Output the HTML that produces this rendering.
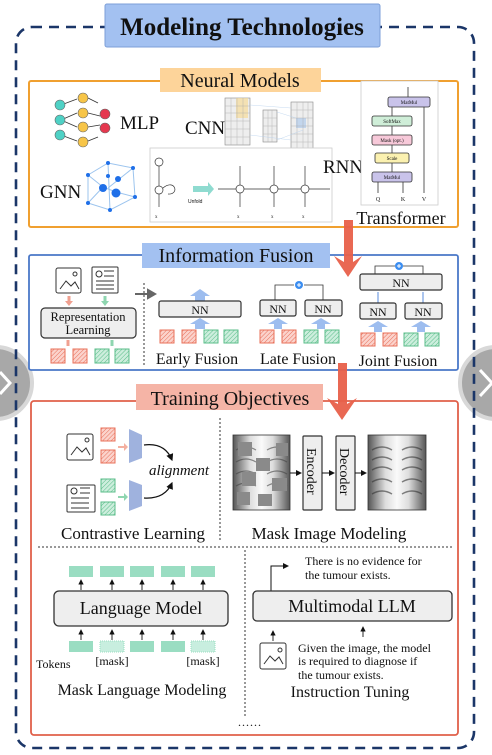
<!DOCTYPE html>
<html><head><meta charset="utf-8"><style>
html,body{margin:0;padding:0;background:#fff;width:492px;height:755px;overflow:hidden}
svg{display:block}
text{font-family:"Liberation Serif",serif;fill:#111}
.s{font-family:"Liberation Sans",sans-serif}
</style></head><body>
<svg width="492" height="755" viewBox="0 0 492 755" xmlns="http://www.w3.org/2000/svg">
<defs>
<pattern id="hr" width="3" height="3" patternUnits="userSpaceOnUse" patternTransform="rotate(45)"><rect width="3" height="3" fill="#fbd3cc"/><line x1="0" y1="0" x2="0" y2="3" stroke="#e8705a" stroke-width="1"/></pattern>
<pattern id="hg" width="3" height="3" patternUnits="userSpaceOnUse" patternTransform="rotate(45)"><rect width="3" height="3" fill="#cdeedd"/><line x1="0" y1="0" x2="0" y2="3" stroke="#5bbd8a" stroke-width="1"/></pattern>
<marker id="ah" markerWidth="6" markerHeight="6" refX="5" refY="3" orient="auto"><path d="M0,0 L6,3 L0,6 z" fill="#111"/></marker>
</defs>

<!-- side gray circles -->
<circle cx="-4" cy="383" r="36" fill="#a8a8a8" stroke="#d8d8d8" stroke-width="4"/>
<circle cx="496" cy="383" r="36" fill="#a8a8a8" stroke="#d8d8d8" stroke-width="4"/>
<path d="M0,372 L10,383 L0,394" stroke="#fff" stroke-width="3" fill="none"/>
<path d="M480,370 L492,383 L480,396" stroke="#fff" stroke-width="3" fill="none"/>

<!-- outer dashed -->
<rect x="16" y="27" width="458" height="721" rx="16" fill="none" stroke="#1b3668" stroke-width="2.6" stroke-dasharray="10,7"/>
<rect x="105" y="4" width="275" height="43" rx="2" fill="#a3c1f1" stroke="#7d9fd8" stroke-width="1"/>
<text x="242" y="35" font-size="25" font-weight="bold" text-anchor="middle">Modeling Technologies</text>

<!-- Neural models -->
<rect x="29" y="81" width="429" height="146" rx="2" fill="#fff" stroke="#f0a030" stroke-width="2"/>
<rect x="160" y="68" width="161" height="24" fill="#fdd49a"/>
<text x="240" y="87" font-size="20" text-anchor="middle">Neural Models</text>
<!-- MLP -->
<g stroke="#333" stroke-width="0.8">
<line x1="61" y1="105" x2="77" y2="99"/><line x1="88" y1="98" x2="98" y2="103"/>
<line x1="61" y1="120" x2="77" y2="113"/><line x1="61" y1="120" x2="77" y2="127"/>
<line x1="61" y1="135" x2="77" y2="141"/><line x1="88" y1="113" x2="100" y2="116"/><line x1="88" y1="127" x2="100" y2="125"/><line x1="88" y1="141" x2="98" y2="137"/>
</g>
<g stroke="#666" stroke-width="0.6">
<circle cx="60" cy="105" r="5" fill="#4fd1c5"/><circle cx="60" cy="120" r="5" fill="#4fd1c5"/><circle cx="60" cy="135" r="5" fill="#4fd1c5"/>
<circle cx="83" cy="98" r="5" fill="#f7c548"/><circle cx="83" cy="113" r="5" fill="#f7c548"/><circle cx="83" cy="127" r="5" fill="#f7c548"/><circle cx="83" cy="142" r="5" fill="#f7c548"/>
<circle cx="105" cy="114" r="5" fill="#e5384f"/><circle cx="105" cy="128" r="5" fill="#e5384f"/>
</g>
<text x="120" y="129" font-size="19">MLP</text>
<!-- CNN -->
<text x="185" y="134" font-size="19">CNN</text>
<g stroke="#888" stroke-width="0.6" fill="#eee">
<rect x="225" y="98" width="25" height="47"/>
<rect x="263" y="110" width="14" height="32"/>
<rect x="291" y="102" width="22" height="47"/>
</g>
<rect x="236" y="98" width="12" height="20" fill="#f6dc9a" opacity="0.7"/>
<rect x="296" y="118" width="10" height="10" fill="#b8d0ec" opacity="0.8"/>
<g stroke="#aaa" stroke-width="0.4">
<path d="M225,106 h25 M225,113 h25 M225,121 h25 M225,129 h25 M225,137 h25 M231,98 v47 M237,98 v47 M243,98 v47"/>
<path d="M263,118 h14 M263,126 h14 M263,134 h14 M268,110 v32 M272,110 v32"/>
<path d="M291,110 h22 M291,118 h22 M291,126 h22 M291,134 h22 M291,142 h22 M297,102 v47 M303,102 v47 M308,102 v47"/>
<path d="M250,105 L291,108 M250,135 L291,140 M277,112 L296,118 M277,140 L303,130" stroke="#b8d0ec"/>
</g>
<!-- GNN -->
<text x="40" y="198" font-size="19">GNN</text>
<g stroke="#9cc4ee" stroke-width="1" fill="none">
<path d="M88,175 L108,163 L133,168 L135,197 L110,210 L88,203 Z M108,163 L110,210 M108,188 L133,168 M103,187 L116,192 L135,197 M88,175 L103,187 L88,203"/>
</g>
<g fill="#1f6fe8">
<circle cx="88" cy="175" r="2"/><circle cx="108" cy="163" r="2"/><circle cx="133" cy="168" r="2"/><circle cx="135" cy="197" r="2"/><circle cx="110" cy="210" r="2"/><circle cx="88" cy="203" r="2"/><circle cx="108" cy="176" r="2"/>
<circle cx="103" cy="188" r="4"/><circle cx="118" cy="179" r="3"/><circle cx="116" cy="193" r="4.5"/>
</g>
<!-- RNN -->
<rect x="150" y="148" width="182" height="74" fill="#fff" stroke="#ccc" stroke-width="0.8"/>
<text x="323" y="173" font-size="19">RNN</text>
<g stroke="#333" stroke-width="0.7" fill="none">
<circle cx="159" cy="162" r="4"/><circle cx="159" cy="190" r="4"/><circle cx="240" cy="189" r="4"/><circle cx="274" cy="189" r="4"/><circle cx="305" cy="189" r="4"/>
<path d="M159,186 V166 M159,207 V194 M240,207 V193 M274,207 V193 M305,207 V193 M240,185 V166 M274,185 V166 M305,185 V166 M218,189 H236 M244,189 H270 M278,189 H301 M309,189 H330"/>
<path d="M163,188 C175,178 180,195 168,194"/>
</g>
<path d="M193,186 H208 V182 L214,189 L208,196 V192 H193Z" fill="#8fdbd0"/>
<text x="188" y="203" font-size="5" class="s" fill="#555">Unfold</text>
<text x="155" y="218" font-size="5" fill="#333">x</text><text x="237" y="218" font-size="5">x</text><text x="271" y="218" font-size="5">x</text><text x="302" y="218" font-size="5">x</text>
<!-- Transformer -->
<rect x="361" y="81" width="77" height="124" fill="#fff" stroke="#ccc" stroke-width="0.8"/>
<g stroke="#333" stroke-width="0.8" class="s">
<rect x="388" y="97" width="42" height="10" rx="2" fill="#c9c3ea"/>
<rect x="372" y="116" width="40" height="10" rx="2" fill="#cfeed8"/>
<rect x="372" y="135" width="40" height="10" rx="2" fill="#f7c9d9"/>
<rect x="375" y="153" width="34" height="10" rx="2" fill="#fbf1b0"/>
<rect x="372" y="172" width="40" height="10" rx="2" fill="#c9c3ea"/>
<path d="M408,97 V87 M392,116 V107 M392,135 V126 M392,153 V145 M392,172 V163 M378,193 V182 M403,193 V182 M424,193 V107" fill="none"/>
</g>
<g class="s" font-size="5" text-anchor="middle"><text x="409" y="104">MatMul</text><text x="392" y="123">SoftMax</text><text x="392" y="142">Mask (opt.)</text><text x="392" y="160">Scale</text><text x="392" y="179">MatMul</text></g>
<g class="s" font-size="6" text-anchor="middle"><text x="378" y="201">Q</text><text x="403" y="201">K</text><text x="424" y="201">V</text></g>
<text x="401" y="224" font-size="18" text-anchor="middle">Transformer</text>

<!-- Info fusion -->
<rect x="29" y="255" width="429" height="115" rx="2" fill="#fff" stroke="#4a78c8" stroke-width="1.8"/>
<rect x="142" y="243" width="188" height="25" fill="#a3c1f1"/>
<text x="236" y="262" font-size="20" text-anchor="middle">Information Fusion</text>
<g stroke="#333" stroke-width="1" fill="#fff">
<rect x="56" y="268" width="25" height="25" rx="2"/><path d="M60,289 L66,281 L71,286 L75,282 L79,289" fill="none"/><circle cx="75" cy="274" r="2"/>
<rect x="92" y="267" width="26" height="26" rx="1"/><circle cx="99" cy="274" r="3"/><path d="M104,271 h10 M104,276 h10 M96,281 h18 M96,285 h18 M96,289 h18" fill="none"/>
</g>
<path d="M69,296 V302" stroke="#f0a090" stroke-width="3"/><path d="M65,301 L69,306 L73,301Z" fill="#f0a090"/>
<path d="M105,296 V302" stroke="#8fd6b0" stroke-width="3"/><path d="M101,301 L105,306 L109,301Z" fill="#8fd6b0"/>
<rect x="41" y="308" width="95" height="30" rx="4" fill="#eee" stroke="#333" stroke-width="1.2"/>
<text x="88" y="321" font-size="12.5" text-anchor="middle">Representation</text><text x="88" y="334" font-size="12.5" text-anchor="middle">Learning</text>
<path d="M68,340 V346" stroke="#f0a090" stroke-width="3"/><path d="M112,340 V346" stroke="#8fd6b0" stroke-width="3"/>
<rect x="51" y="349" width="14" height="14" fill="url(#hr)" stroke="#e8705a"/><rect x="73" y="349" width="14" height="14" fill="url(#hr)" stroke="#e8705a"/>
<rect x="95" y="349" width="14" height="14" fill="url(#hg)" stroke="#5bbd8a"/><rect x="115" y="349" width="14" height="14" fill="url(#hg)" stroke="#5bbd8a"/>
<path d="M144,283 V367" stroke="#333" stroke-width="1" stroke-dasharray="2,2"/>
<path d="M135,294 H148 V290 L155,294 L148,298 V294" fill="#666" stroke="#666" stroke-width="2"/>
<!-- early -->
<path d="M195,301 V296 H190 L200,289 L210,296 H205 V301Z" fill="#9dbdef"/>
<rect x="159" y="301" width="82" height="16" rx="2" fill="#eee" stroke="#333" stroke-width="1.2"/><text x="200" y="314" font-size="12" text-anchor="middle">NN</text>
<path d="M195,329 V324 H190 L200,318 L210,324 H205 V329Z" fill="#9dbdef"/>
<rect x="160" y="330" width="14" height="13" fill="url(#hr)" stroke="#e8705a"/><rect x="182" y="330" width="14" height="13" fill="url(#hr)" stroke="#e8705a"/><rect x="204" y="330" width="14" height="13" fill="url(#hg)" stroke="#5bbd8a"/><rect x="224" y="330" width="14" height="13" fill="url(#hg)" stroke="#5bbd8a"/>
<text x="197" y="364" font-size="16" text-anchor="middle">Early Fusion</text>
<!-- late -->
<path d="M275,300 V285 H294 M323,300 V285 H304" stroke="#333" stroke-width="0.8" fill="none"/>
<circle cx="299" cy="285" r="4" fill="#3b8df0"/><path d="M297,285 h4 M299,283 v4" stroke="#fff" stroke-width="1"/>
<rect x="260" y="300" width="36" height="16" rx="2" fill="#eee" stroke="#333" stroke-width="1.2"/><rect x="305" y="300" width="37" height="16" rx="2" fill="#eee" stroke="#333" stroke-width="1.2"/>
<text x="278" y="313" font-size="12" text-anchor="middle">NN</text><text x="323" y="313" font-size="12" text-anchor="middle">NN</text>
<path d="M274,329 V324 H268 L278,318 L288,324 H282 V329Z" fill="#9dbdef"/><path d="M317,329 V324 H311 L321,318 L331,324 H325 V329Z" fill="#9dbdef"/>
<rect x="260" y="330" width="14" height="13" fill="url(#hr)" stroke="#e8705a"/><rect x="282" y="330" width="14" height="13" fill="url(#hr)" stroke="#e8705a"/><rect x="304" y="330" width="14" height="13" fill="url(#hg)" stroke="#5bbd8a"/><rect x="325" y="330" width="14" height="13" fill="url(#hg)" stroke="#5bbd8a"/>
<text x="298" y="364" font-size="16" text-anchor="middle">Late Fusion</text>
<!-- joint -->
<path d="M375,274 V266 H395 M423,274 V266 H403" stroke="#333" stroke-width="0.8" fill="none"/>
<circle cx="399" cy="266" r="4" fill="#3b8df0"/><path d="M397,266 h4 M399,264 v4" stroke="#fff" stroke-width="1"/>
<rect x="360" y="274" width="82" height="16" rx="2" fill="#eee" stroke="#333" stroke-width="1.2"/><text x="401" y="287" font-size="12" text-anchor="middle">NN</text>
<path d="M378,303 V292 M423,303 V292" stroke="#2f6fd6" stroke-width="0.8"/>
<rect x="360" y="303" width="36" height="16" rx="2" fill="#eee" stroke="#333" stroke-width="1.2"/><rect x="405" y="303" width="37" height="16" rx="2" fill="#eee" stroke="#333" stroke-width="1.2"/>
<text x="378" y="316" font-size="12" text-anchor="middle">NN</text><text x="423" y="316" font-size="12" text-anchor="middle">NN</text>
<path d="M374,332 V327 H368 L378,321 L388,327 H382 V332Z" fill="#9dbdef"/><path d="M417,332 V327 H411 L421,321 L431,327 H425 V332Z" fill="#9dbdef"/>
<rect x="361" y="333" width="14" height="13" fill="url(#hr)" stroke="#e8705a"/><rect x="383" y="333" width="14" height="13" fill="url(#hr)" stroke="#e8705a"/><rect x="404" y="333" width="14" height="13" fill="url(#hg)" stroke="#5bbd8a"/><rect x="425" y="333" width="14" height="13" fill="url(#hg)" stroke="#5bbd8a"/>
<text x="398" y="366" font-size="16" text-anchor="middle">Joint Fusion</text>

<!-- Training objectives -->
<rect x="31" y="401" width="427" height="334" rx="3" fill="#fff" stroke="#e0604a" stroke-width="1.8"/>
<rect x="136" y="384" width="187" height="26" fill="#f5b4a6"/>
<text x="230" y="405" font-size="20" text-anchor="middle">Training Objectives</text>
<g stroke="#333" stroke-width="1" fill="#fff">
<rect x="67" y="434" width="26" height="26" rx="2"/><path d="M71,455 L77,447 L82,452 L86,448 L90,455" fill="none"/><circle cx="87" cy="440" r="2"/>
<rect x="67" y="485" width="28" height="27" rx="1"/><circle cx="74" cy="491" r="3"/><path d="M80,488 h10 M80,493 h10 M71,498 h18 M71,503 h18 M71,508 h18" fill="none"/>
</g>
<rect x="101" y="428" width="14" height="13" fill="url(#hr)" stroke="#e8705a"/><rect x="101" y="450" width="14" height="13" fill="url(#hr)" stroke="#e8705a"/>
<rect x="101" y="479" width="14" height="13" fill="url(#hg)" stroke="#5bbd8a"/><rect x="101" y="502" width="14" height="13" fill="url(#hg)" stroke="#5bbd8a"/>
<path d="M118,446 h6 v-3 l4,4 l-4,4 v-3 h-6z" fill="#f4b0a0"/><path d="M118,496 h6 v-3 l4,4 l-4,4 v-3 h-6z" fill="#8fd6b0"/>
<path d="M129,429 L142,435 L142,458 L129,463Z" fill="#9fb2de"/><path d="M129,480 L142,485 L142,506 L129,511Z" fill="#9fb2de"/>
<path d="M144,445 C160,443 168,450 172,460" stroke="#111" stroke-width="1.2" fill="none" marker-end="url(#ah)"/>
<path d="M144,498 C160,499 168,492 172,483" stroke="#111" stroke-width="1.2" fill="none" marker-end="url(#ah)"/>
<text x="179" y="475" font-size="15" font-style="italic" text-anchor="middle">alignment</text>
<text x="133" y="539" font-size="17" text-anchor="middle">Contrastive Learning</text>
<path d="M220,418 V540" stroke="#333" stroke-width="1" stroke-dasharray="2,2"/>
<defs><linearGradient id="xr" x1="0" x2="1"><stop offset="0" stop-color="#555"/><stop offset="0.3" stop-color="#ddd"/><stop offset="0.5" stop-color="#fafafa"/><stop offset="0.7" stop-color="#ddd"/><stop offset="1" stop-color="#555"/></linearGradient></defs>
<rect x="233" y="435" width="57" height="75" fill="url(#xr)" stroke="#333" stroke-width="0.8"/>
<g stroke="#444" stroke-width="1.2" opacity="0.6" fill="none"><path d="M236,450 q10,-6 20,0 M236,462 q10,-6 20,0 M236,474 q10,-6 20,0 M236,486 q10,-6 20,0 M267,450 q10,-6 20,0 M267,462 q10,-6 20,0 M267,474 q10,-6 20,0 M267,486 q10,-6 20,0"/></g>
<g fill="#8a8a8a"><rect x="238" y="442" width="14" height="14"/><rect x="276" y="443" width="12" height="13"/><rect x="256" y="458" width="14" height="13"/><rect x="242" y="472" width="14" height="14"/><rect x="272" y="478" width="15" height="13"/><rect x="237" y="492" width="13" height="13"/><rect x="258" y="494" width="14" height="12"/></g>
<rect x="303" y="436" width="19" height="74" rx="1" fill="#eee" stroke="#333" stroke-width="1.2"/>
<rect x="336" y="436" width="19" height="74" rx="1" fill="#eee" stroke="#333" stroke-width="1.2"/>
<text transform="translate(307,448) rotate(90)" font-size="14">Encoder</text>
<text transform="translate(340,448) rotate(90)" font-size="14">Decoder</text>
<line x1="290" y1="473" x2="301" y2="473" stroke="#111" marker-end="url(#ah)"/>
<line x1="322" y1="473" x2="334" y2="473" stroke="#111" marker-end="url(#ah)"/>
<line x1="355" y1="473" x2="366" y2="473" stroke="#111" marker-end="url(#ah)"/>
<rect x="368" y="435" width="58" height="75" fill="url(#xr)" stroke="#333" stroke-width="0.8"/>
<g stroke="#333" stroke-width="1.4" opacity="0.6" fill="none"><path d="M372,450 q10,-6 20,0 M372,460 q10,-6 20,0 M372,470 q10,-6 20,0 M372,482 q10,-6 20,0 M372,494 q10,-6 20,0 M402,450 q10,-6 20,0 M402,460 q10,-6 20,0 M402,470 q10,-6 20,0 M402,482 q10,-6 20,0 M402,494 q10,-6 20,0"/></g>
<text x="329" y="539" font-size="17" text-anchor="middle">Mask Image Modeling</text>
<path d="M38,547 H452" stroke="#333" stroke-width="1" stroke-dasharray="2,2"/>
<!-- MLM -->
<g fill="#9addc2"><rect x="69" y="566" width="24" height="11"/><rect x="100" y="566" width="24" height="11"/><rect x="130" y="566" width="24" height="11"/><rect x="161" y="566" width="24" height="11"/><rect x="191" y="566" width="24" height="11"/></g>
<g stroke="#111" stroke-width="0.9" marker-end="url(#ah)">
<line x1="81" y1="590" x2="81" y2="580"/><line x1="112" y1="590" x2="112" y2="580"/><line x1="142" y1="590" x2="142" y2="580"/><line x1="173" y1="590" x2="173" y2="580"/><line x1="203" y1="590" x2="203" y2="580"/>
<line x1="81" y1="640" x2="81" y2="630"/><line x1="112" y1="640" x2="112" y2="630"/><line x1="142" y1="640" x2="142" y2="630"/><line x1="173" y1="640" x2="173" y2="630"/><line x1="203" y1="640" x2="203" y2="630"/>
</g>
<rect x="54" y="591" width="174" height="35" rx="5" fill="#eee" stroke="#333" stroke-width="1.3"/>
<text x="141" y="614" font-size="18" text-anchor="middle">Language Model</text>
<g fill="#9addc2"><rect x="69" y="641" width="24" height="11"/><rect x="130" y="641" width="24" height="11"/><rect x="161" y="641" width="24" height="11"/></g>
<g fill="#c8eedf" stroke="#9addc2" stroke-dasharray="1,1"><rect x="100" y="641" width="24" height="11"/><rect x="191" y="641" width="24" height="11"/></g>
<text x="36" y="668" font-size="12">Tokens</text>
<text x="112" y="665" font-size="12" text-anchor="middle">[mask]</text><text x="203" y="665" font-size="12" text-anchor="middle">[mask]</text>
<text x="142" y="695" font-size="16" text-anchor="middle">Mask Language Modeling</text>
<path d="M245,550 V718" stroke="#333" stroke-width="1" stroke-dasharray="2,2"/>
<!-- instruction -->
<path d="M271,591 V566 H288" stroke="#111" stroke-width="1" fill="none" marker-end="url(#ah)"/>
<text x="305" y="565" font-size="12">There is no evidence for</text>
<text x="305" y="579" font-size="12">the tumour exists.</text>
<rect x="253" y="591" width="199" height="30" rx="4" fill="#eee" stroke="#333" stroke-width="1.3"/>
<text x="352" y="612" font-size="18" text-anchor="middle">Multimodal LLM</text>
<line x1="273" y1="641" x2="273" y2="631" stroke="#111" stroke-width="0.9" marker-end="url(#ah)"/>
<line x1="363" y1="637" x2="363" y2="627" stroke="#111" stroke-width="0.9" marker-end="url(#ah)"/>
<g stroke="#333" stroke-width="1" fill="#fff"><rect x="260" y="643" width="26" height="26" rx="2"/><path d="M264,664 L270,656 L275,661 L279,657 L283,664" fill="none"/><circle cx="280" cy="650" r="2"/></g>
<text x="298" y="652" font-size="12">Given the image, the model</text>
<text x="298" y="665" font-size="12">is required to diagnose if</text>
<text x="298" y="679" font-size="12">the tumour exists.</text>
<text x="350" y="697" font-size="16" text-anchor="middle">Instruction Tuning</text>
<text x="250" y="726" font-size="12" text-anchor="middle" letter-spacing="1">......</text>

<!-- big red arrows -->
<path d="M344,220 H353 V262 L362,256 L348,277 L334,256 L344,262Z" fill="#e8604a" opacity="0.95"/>
<path d="M338,363 H347 V404 L357,398 L342,420 L327,398 L338,404Z" fill="#e8604a" opacity="0.95"/>
</svg>
</body></html>
